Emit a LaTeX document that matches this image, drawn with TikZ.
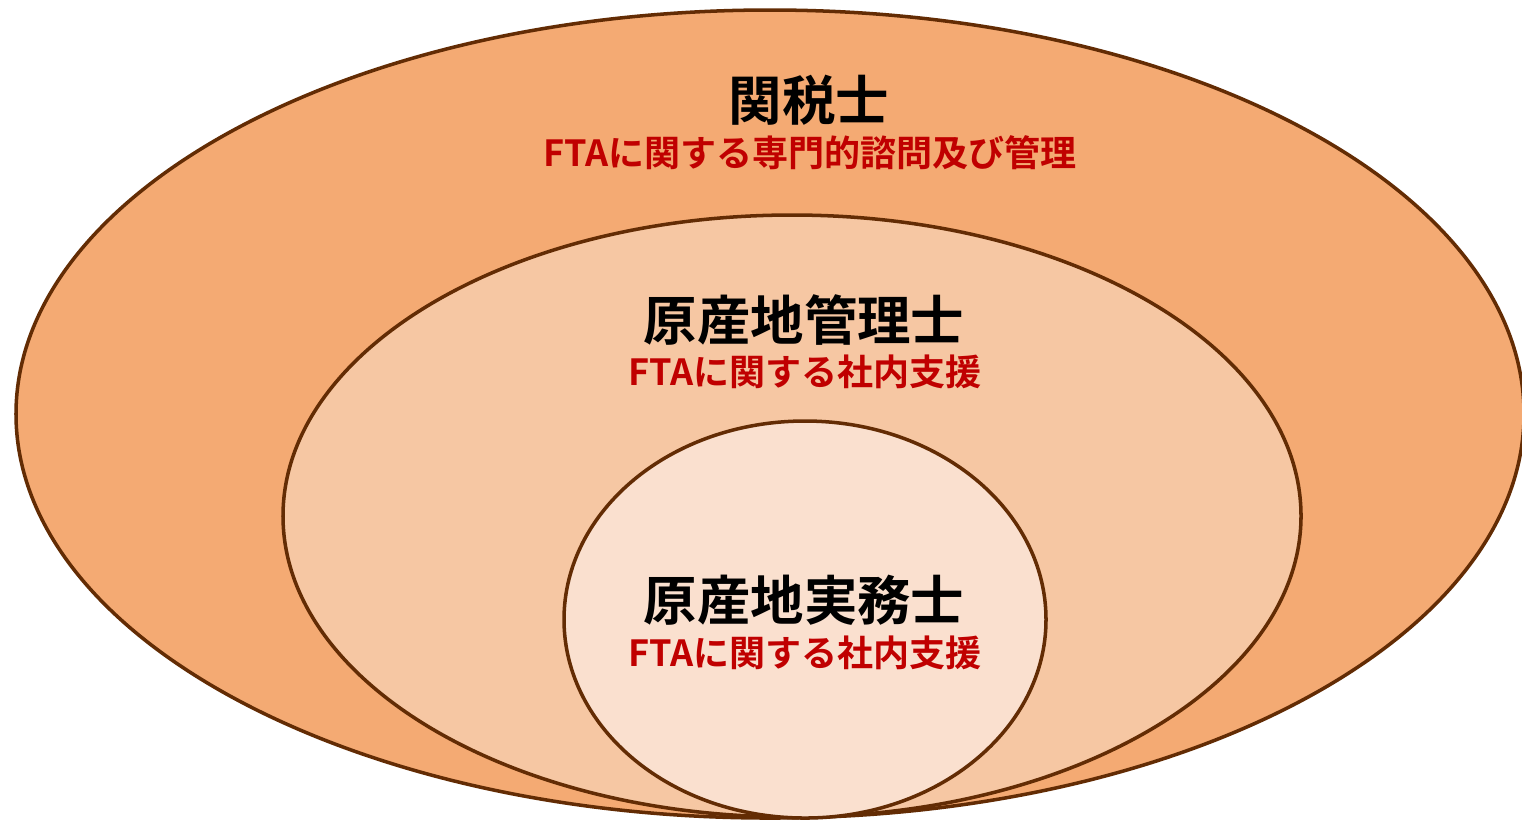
\documentclass[tikz,border=0pt]{standalone}
\usepackage{fontspec}
\newfontfamily\jp{Noto Sans CJK JP}[BoldFont={Noto Sans CJK JP Bold}]
\definecolor{outerfill}{HTML}{F4AA73}
\definecolor{midfill}{HTML}{F6C7A3}
\definecolor{innerfill}{HTML}{FAE0CF}
\definecolor{edge}{HTML}{632C04}
\definecolor{redtext}{HTML}{C00000}
\begin{document}
\begin{tikzpicture}[x=0.01cm,y=-0.01cm,
  ring/.style={draw=edge,line width=1.0pt},
  title/.style={font=\jp\bfseries\fontsize{15.2}{18}\selectfont,text=black,inner sep=0pt,anchor=center},
  sub/.style={font=\jp\bfseries\fontsize{10.25}{12}\selectfont,text=redtext,inner sep=0pt,anchor=center}]
\useasboundingbox (0,0) rectangle (1522,820);
\clip (0,0) rectangle (1522,820);
\fill[white] (0,0) rectangle (1522,820);
\draw[ring,fill=outerfill] (770,414) ellipse [x radius=754, y radius=404];
\draw[ring,fill=midfill] (792,516) ellipse [x radius=509, y radius=301];
\draw[ring,fill=innerfill] (805,619.5) ellipse [x radius=241, y radius=198.5];
\node[title] (t1) at (809,100) {関税士};
\node[sub] (s1) at (810,153) {FTAに関する専門的諮問及び管理};
\node[title] (t2) at (804,320) {原産地管理士};
\node[sub] (s2) at (805,372) {FTAに関する社内支援};
\node[title] (t3) at (804,600) {原産地実務士};
\node[sub] (s3) at (805,653) {FTAに関する社内支援};
\end{tikzpicture}
\end{document}
